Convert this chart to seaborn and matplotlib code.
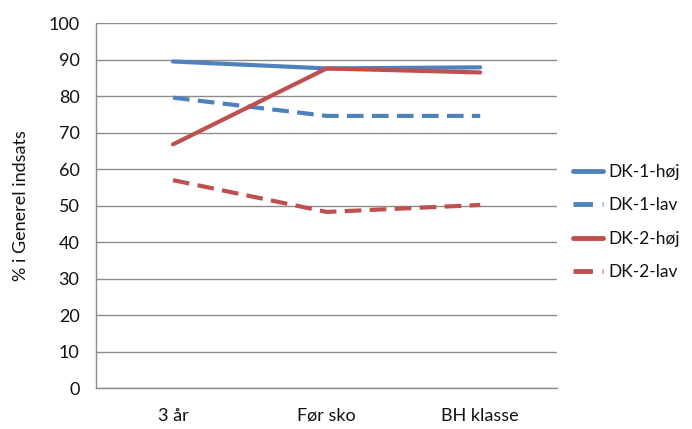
import numpy as np
import pandas as pd
import matplotlib
matplotlib.use("Agg")
import matplotlib.pyplot as plt
from matplotlib.ticker import FixedLocator
import seaborn as sns

# --- Data ---
categories = ["3 år", "Før sko", "BH klasse"]
dk1_hoj = [89.5, 87.6, 87.9]
dk1_lav = [79.6, 74.6, 74.6]
dk2_hoj = [66.8, 87.6, 86.5]
dk2_lav = [57.0, 48.3, 50.2]
series_names = ["DK-1-høj", "DK-1-lav", "DK-2-høj", "DK-2-lav"]

rows = []
for name, vals in zip(series_names, [dk1_hoj, dk1_lav, dk2_hoj, dk2_lav]):
    for i, v in enumerate(vals):
        rows.append({"pos": i, "kategori": categories[i], "serie": name, "værdi": v})
df = pd.DataFrame(rows)

# --- Style ---
sns.set_style("white")
plt.rcParams["font.family"] = ["Lato", "DejaVu Sans"]

blue = "#4F81BD"
red = "#C0504D"
palette = {"DK-1-høj": blue, "DK-1-lav": blue, "DK-2-høj": red, "DK-2-lav": red}
dashes = {"DK-1-høj": "", "DK-1-lav": (4, 2), "DK-2-høj": "", "DK-2-lav": (4, 2)}

fig = plt.figure(figsize=(6.92, 4.29), dpi=100)
ax = fig.add_axes([0.139, 0.095, 0.666, 0.851])

sns.lineplot(data=df, x="pos", y="værdi", hue="serie", style="serie",
             palette=palette, dashes=dashes, linewidth=3, ax=ax,
             hue_order=series_names, style_order=series_names)

ax.set_xlim(-0.5, 2.5)
ax.set_ylim(0, 100)
ax.set_yticks(np.arange(0, 101, 10))
ax.yaxis.grid(True, color="#8c8c8c", linewidth=1)
ax.set_axisbelow(True)

ax.set_xticks(range(len(categories)))
ax.set_xticklabels(categories)
ax.xaxis.set_minor_locator(FixedLocator([-0.5, 0.5, 1.5, 2.5]))
ax.tick_params(axis="x", which="major", length=0, pad=14, labelsize=13, labelcolor="#111111")
ax.tick_params(axis="x", which="minor", length=6, color="#8c8c8c", width=1)
ax.tick_params(axis="y", length=7, color="#8c8c8c", width=1, labelsize=13, pad=5,
               labelcolor="#111111")

for side in ["top", "right"]:
    ax.spines[side].set_visible(False)
for side in ["left", "bottom"]:
    ax.spines[side].set_color("#8c8c8c")
    ax.spines[side].set_linewidth(1)

ax.set_xlabel("")
ax.set_ylabel("% i Generel indsats", fontsize=13, labelpad=14, color="#111111")

leg = ax.legend(loc="center left", bbox_to_anchor=(1.02, 0.455), frameon=False,
                borderaxespad=0, fontsize=12.5, handlelength=1.7,
                handletextpad=0.3, labelspacing=1.0)
for line in leg.get_lines():
    line.set_linewidth(3.5)
for t in leg.get_texts():
    t.set_color("#111111")

fig.savefig("out.png", dpi=100)
